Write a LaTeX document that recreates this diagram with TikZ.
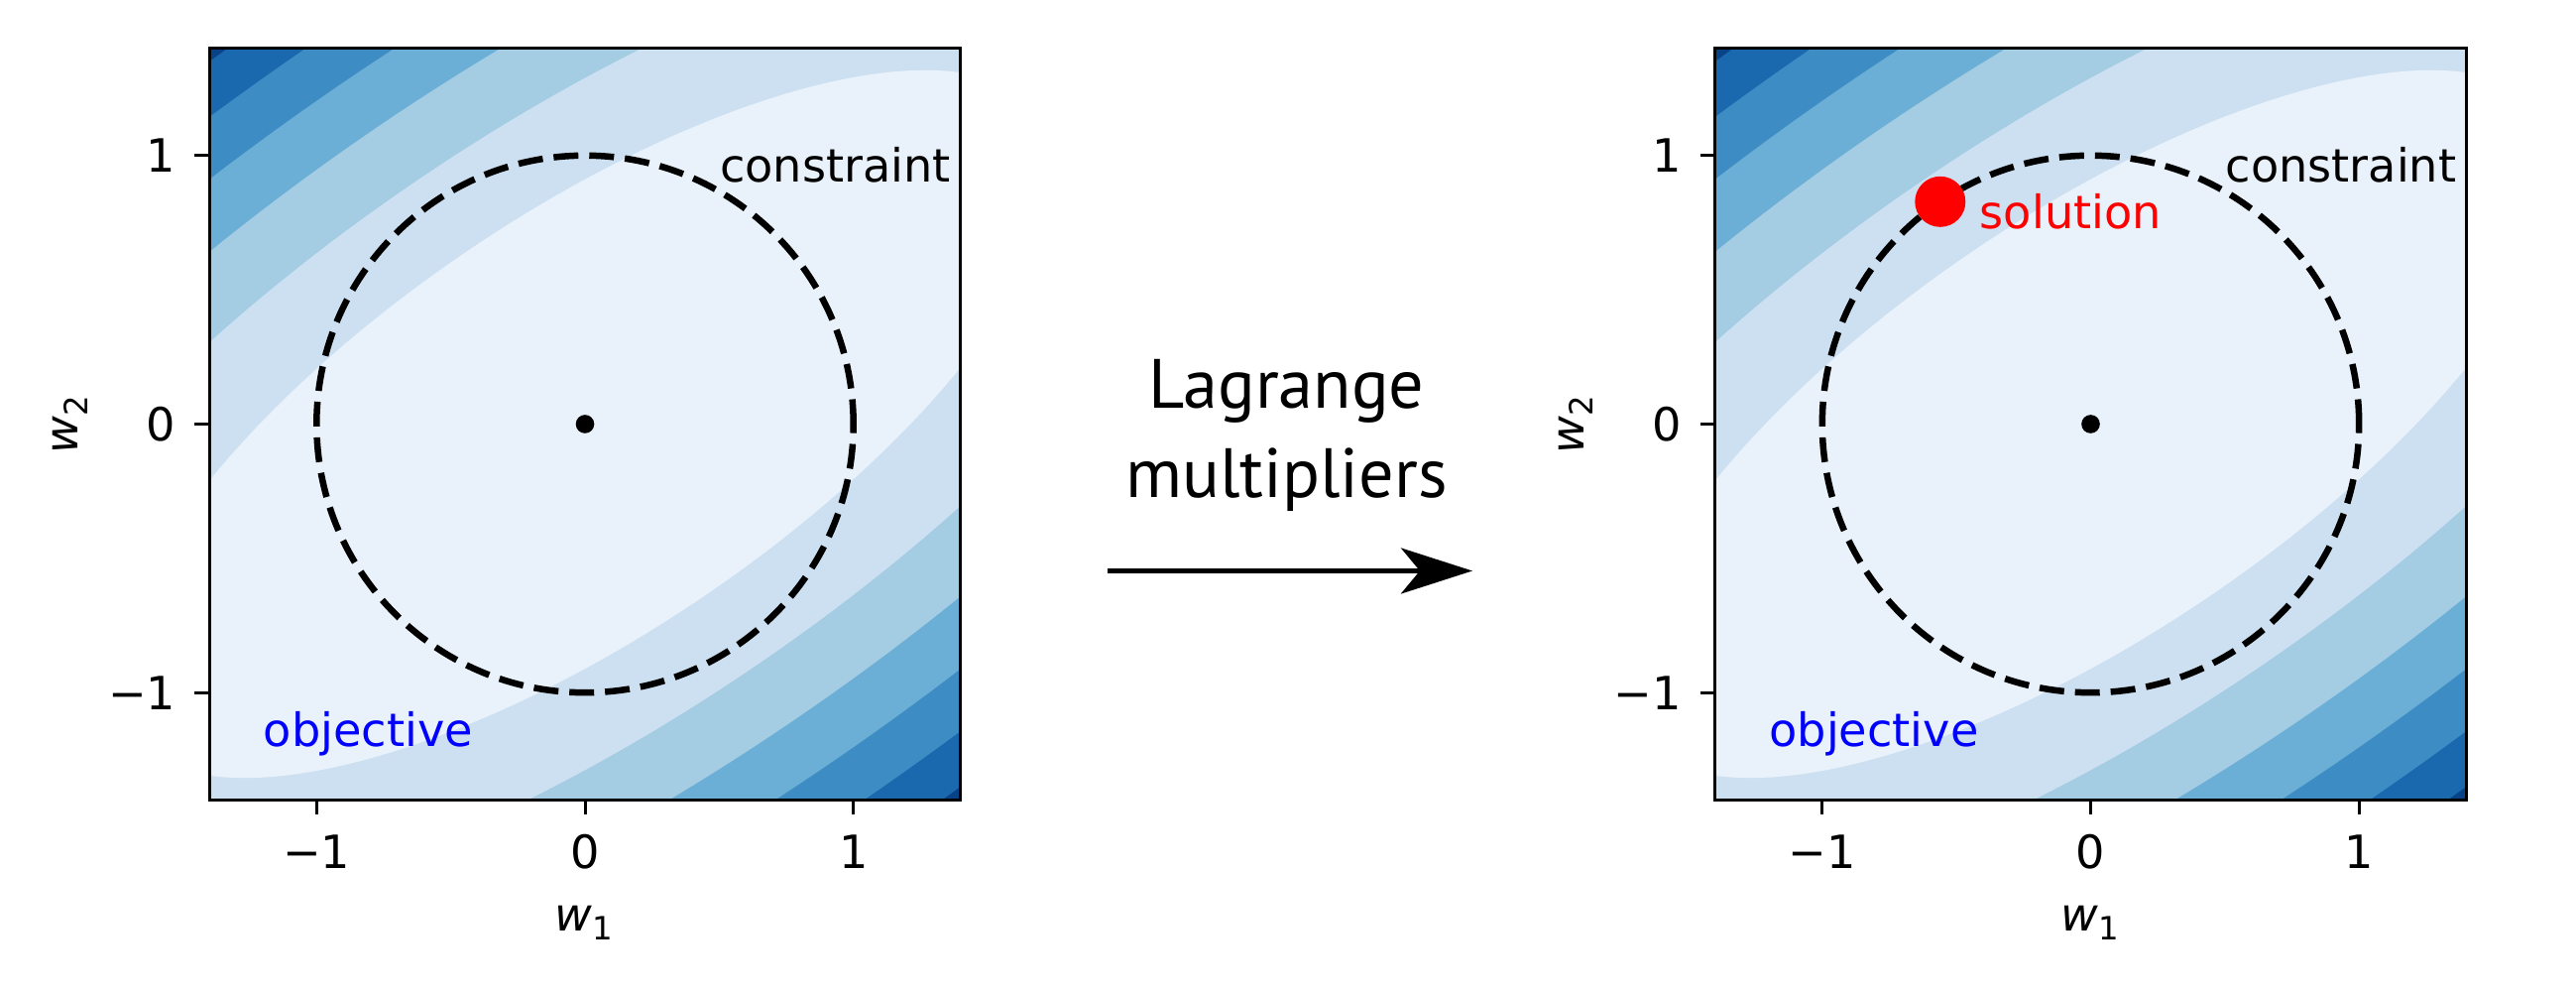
\documentclass[tikz,border=0pt]{standalone}
\usepackage{fontspec}
\setmainfont{DejaVu Sans}
\newfontfamily\captionfont{PT Sans}
\usepackage{xcolor}
\usepackage{tikz}
\usetikzlibrary{arrows.meta}

% Blues colour map, one colour per contour band
\definecolor{bluesA}{RGB}{233,242,250}
\definecolor{bluesB}{RGB}{205,224,241}
\definecolor{bluesC}{RGB}{164,204,227}
\definecolor{bluesD}{RGB}{107,174,214}
\definecolor{bluesE}{RGB}{61,141,196}
\definecolor{bluesF}{RGB}{26,104,174}
\definecolor{bluesG}{RGB}{8,67,135}

\begin{document}
\begin{tikzpicture}[
    ticklab/.style={font=\fontsize{13.15}{15}\selectfont, inner sep=0pt},
    note/.style={font=\fontsize{13.15}{15}\selectfont, inner sep=0pt, anchor=base west},
    bigtext/.style={font=\captionfont\fontsize{20}{25.6}\selectfont, align=center, inner sep=0pt},
    cstr/.style={line width=0.065cm, dash pattern=on 0.25cm off 0.11cm},
    frame/.style={line width=0.03cm}]
  \path[use as bounding box, fill=white] (0,0) rectangle (25.98,10);

  % --- both panels: objective contours + unit-circle constraint ---
  \foreach \cx/\p in {5.90/left, 21.085/right} {
    \begin{scope}[shift={(\cx cm,5.725cm)}, x=2.707cm, y=2.707cm]
      \begin{scope}
        \clip (-1.4,-1.4) rectangle (1.4,1.4);
        \fill[bluesG] (-1.4,-1.4) rectangle (1.4,1.4);
        \foreach \k/\c in {6/bluesF, 5/bluesE, 4/bluesD, 3/bluesC, 2/bluesB, 1/bluesA}
          \fill[\c, rotate=34.08] (0,0) ellipse [x radius={2.0497*sqrt(\k)}, y radius={0.7791*sqrt(\k)}];
      \end{scope}
      \draw[cstr] (0,0) circle [radius=1];
      \node[circle, fill=black, inner sep=0pt, minimum size=0.186cm] (\p-min) at (0,0) {};
      \node[note] (\p-con) at (0.5,0.9) {constraint};
      \node[note, text=blue] (\p-obj) at (-1.2,-1.2) {objective};
      % axes
      \draw[frame] (-1.4,-1.4) rectangle (1.4,1.4);
      \foreach \t/\l in {-1/−1, 0/0, 1/1} {
        \draw[frame] (\t,-1.4) -- ++(0,-0.15cm);
        \draw[frame] (-1.4,\t) -- ++(-0.15cm,0);
        \node[ticklab, anchor=north, yshift=-0.345cm] (\p-xt\t) at (\t,-1.4) {\l};
        \node[ticklab, anchor=east, xshift=-0.33cm] (\p-yt\t) at (-1.4,\t) {\l};
      }
      \node[ticklab, anchor=base] (\p-w1) at (0,-1.888) {\textit{w}\textsubscript{1}};
      \node[ticklab, anchor=base, rotate=90] (\p-w2) at (-1.888,0) {\textit{w}\textsubscript{2}};
    \end{scope}
  }

  % --- constrained solution (right panel) ---
  \begin{scope}[shift={(21.085cm,5.725cm)}, x=2.707cm, y=2.707cm]
    \node[circle, fill=red, inner sep=0pt, minimum size=0.51cm] (sol) at (-0.5605,0.8281) {};
    \node[note, text=red] (sol-lab) at (-0.415,0.728) {solution};
  \end{scope}

  % --- transition arrow ---
  \node[bigtext, anchor=north] (lm-text) at (12.975,6.38) {Lagrange\\multipliers};
  \coordinate (lm-start) at (11.17,4.245);
  \coordinate (lm-end) at (14.85,4.245);
  \draw[line width=0.054cm, -{Stealth[length=0.72cm, width=0.46cm, inset=0.19cm]}]
    (lm-start) -- (lm-end);
\end{tikzpicture}
\end{document}
